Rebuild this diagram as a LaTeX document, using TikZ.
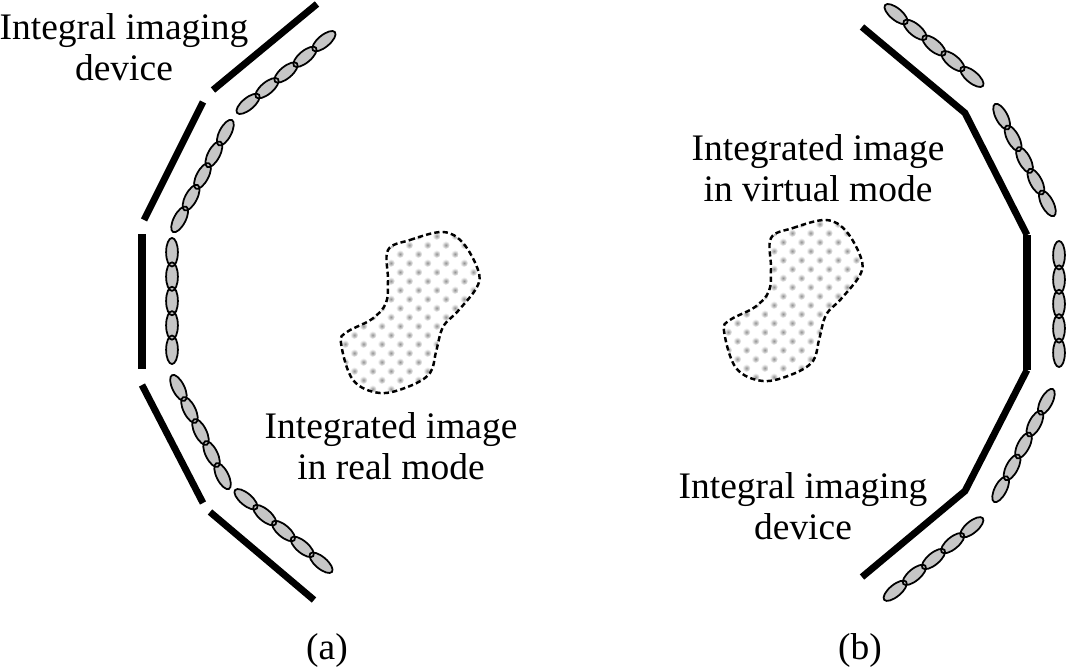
\documentclass[tikz,border=0pt]{standalone}
\usepackage{fontspec}
\setmainfont{Liberation Serif}
\usetikzlibrary{shapes.geometric}
\tikzset{
  device plate/.style={draw=black,line width=1.95pt},
  middle plate/.style={draw=black,line width=2.2pt},
  lens cell/.style={ellipse,line width=0.5pt,inner sep=0pt,sloped,minimum width=0.285cm,minimum height=0.118cm},
  lens fill/.style={lens cell,fill=gray!45},
  lens edge/.style={lens cell,draw=black},
  image outline/.style={draw=black,line width=0.7pt,dash pattern=on 1.5pt off 0.9pt},
  image dot/.style={inner color=gray!85,outer color=white,draw=none},
  diagram label/.style={align=center,inner sep=0pt,font=\fontsize{10.65}{11.7}\selectfont}
}
% one row of five lenses between two points
\newcommand{\lensrow}[2]{
  \foreach \lenslook in {lens fill,lens edge}
    \path (#1) -- (#2)
      node[\lenslook,pos=0.113] {} node[\lenslook,pos=0.3065] {} node[\lenslook,pos=0.5] {}
      node[\lenslook,pos=0.6935] {} node[\lenslook,pos=0.887] {};
}
% dotted image volume
\newcommand{\imageblob}{
  \begin{scope}
    \clip plot[smooth cycle,tension=0.6] coordinates {(388,250) (410,240) (443,232) (463,243) (478,270) (477,287) (458,311) (443,327) (436,352) (430,373) (410,386) (380,393) (353,380) (341,343) (347,332) (372,319) (386,303) (388,280)};
    \foreach \r in {0,...,18}
      \foreach \c in {0,...,8}
        \shade[image dot] ({345.1+18.3*\c-9.15*mod(\r,2)},{236+9*\r}) circle (4);
  \end{scope}
  \draw[image outline] plot[smooth cycle,tension=0.6] coordinates {(388,250) (410,240) (443,232) (463,243) (478,270) (477,287) (458,311) (443,327) (436,352) (430,373) (410,386) (380,393) (353,380) (341,343) (347,332) (372,319) (386,303) (388,280)};
}

\begin{document}
\begin{tikzpicture}[x=0.01cm,y=-0.01cm]
  \useasboundingbox (0,0) rectangle (1067,667);

  \begin{scope}
    \draw[device plate] (213,90) -- (317,4);
    \draw[device plate] (203,102) -- (144,220);
    \draw[middle plate] (142,234) -- (142,369);
    \draw[device plate] (142,385) -- (203,503);
    \draw[device plate] (210,512) -- (314,600);
    \lensrow{237,113}{335,32}
    \lensrow{232,120}{173,232}
    \lensrow{172,238}{172,364}
    \lensrow{172,375}{229,489}
    \lensrow{235,490}{332,572}
    \imageblob
    \node[diagram label] (device a) at (124,47) {Integral imaging\\device};
    \node[diagram label] (image a) at (391,446) {Integrated image\\in real mode};
    \node[diagram label] (caption a) at (327,650) {(a)};
  \end{scope}

  \begin{scope}
    \draw[device plate] (862,27) -- (965,113) -- (1027,235);
    \draw[middle plate] (1027,235) -- (1027,370);
    \draw[device plate] (1027,370) -- (965,491) -- (862,577);
    \lensrow{885,5}{983,86}
    \lensrow{995,104}{1054,216}
    \lensrow{1059,241}{1059,367}
    \lensrow{1053,389}{994,502}
    \lensrow{983,518}{884,600}
    \node[diagram label] (image b) at (818,168) {Integrated image\\in virtual mode};
    \node[diagram label] (device b) at (803,506) {Integral imaging\\device};
    \node[diagram label] (caption b) at (860,650) {(b)};
  \end{scope}

  \begin{scope}[shift={(383,-12)}]
    \imageblob
  \end{scope}
\end{tikzpicture}
\end{document}
